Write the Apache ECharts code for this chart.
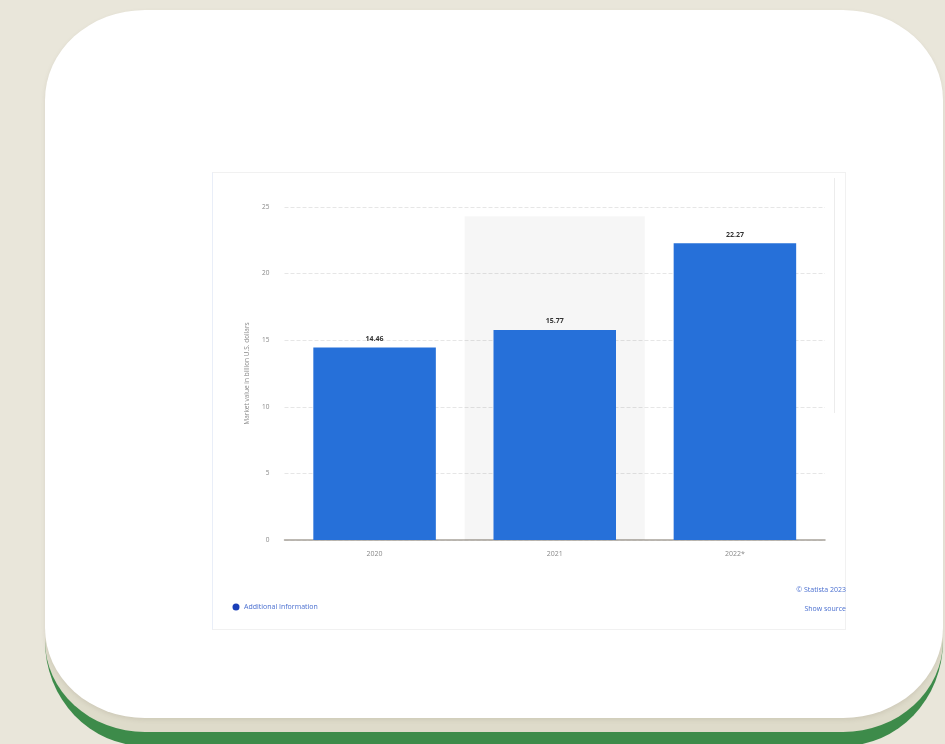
<!DOCTYPE html>
<html>
<head>
<meta charset="utf-8">
<title>Market value</title>
<script src="https://cdn.jsdelivr.net/npm/echarts@6/dist/echarts.min.js"></script>
<style>
  html, body { margin: 0; padding: 0; width: 945px; height: 744px; overflow: hidden; background: #e9e6da; font-family: "Open Sans", "Liberation Sans", sans-serif; }
  .frame {
    position: absolute; left: 45px; top: 10px; width: 898px; height: 722px;
    background: #dedbca; border-bottom: 14px solid #3d8b4a;
    border-radius: 100px / 105px; box-sizing: content-box;
  }
  .card {
    position: absolute; left: 45px; top: 10px; width: 898px; height: 708px;
    background: #ffffff; border-radius: 100px / 90px;
    box-shadow: 0 2px 4px rgba(120, 110, 90, 0.15);
  }
  .panel {
    position: absolute; left: 212px; top: 172px; width: 632px; height: 456px;
    border: 1px solid #f1f1f1; border-left-color: #e9eef8; background: #fff;
  }
  .side {
    position: absolute; left: 834px; top: 178px; width: 1px; height: 235px; background: #ececec;
  }
  #chart { position: absolute; left: 0; top: 0; width: 945px; height: 744px; }
</style>
</head>
<body>
<div class="frame"></div>
<div class="card"></div>
<div class="panel"></div>
<div class="side"></div>
<div id="chart"></div>
<script>
  // Market value per year, billion U.S. dollars
  const categories = ['2020', '2021', '2022*'];
  const values = [14.46, 15.77, 22.27];
  const yTicks = { min: 0, max: 25, interval: 5 };
  const highlightedYear = '2021';
  const highlightTop = 24.3;

  const chart = echarts.init(document.getElementById('chart'), null, { renderer: 'canvas' });

  chart.setOption({
    backgroundColor: 'transparent',
    animation: false,
    grid: { left: 284.5, right: 120, top: 207, bottom: 204, containLabel: false },
    xAxis: {
      type: 'category',
      data: categories,
      axisLine: { show: true, lineStyle: { color: '#a8a39a', width: 1.5 } },
      axisTick: { show: false },
      axisLabel: { color: '#888', fontSize: 7, margin: 10, fontFamily: 'Open Sans' },
      splitLine: { show: false }
    },
    yAxis: {
      type: 'value',
      min: yTicks.min,
      max: yTicks.max,
      interval: yTicks.interval,
      name: 'Market value in billion U.S. dollars',
      nameLocation: 'middle',
      nameRotate: 90,
      nameGap: 34,
      nameTextStyle: { color: '#8a8a8a', fontSize: 6.5, fontFamily: 'Open Sans' },
      axisLine: { show: false },
      axisTick: { show: false },
      axisLabel: { color: '#888', fontSize: 6.5, margin: 15, fontFamily: 'Open Sans' },
      splitLine: { show: true, lineStyle: { color: '#e6e6e6', type: 'dashed', width: 1 } }
    },
    series: [{
      type: 'bar',
      data: values,
      barWidth: '68%',
      itemStyle: { color: '#2670d9' },
      label: {
        show: true,
        position: 'top',
        distance: 5,
        color: '#333',
        fontSize: 7,
        fontWeight: 'bold',
        fontFamily: 'Open Sans',
        formatter: p => p.value.toFixed(2)
      },
      markArea: {
        silent: true,
        itemStyle: { color: 'rgba(0,0,0,0.035)' },
        data: [[{ xAxis: highlightedYear, yAxis: 0 }, { xAxis: highlightedYear, yAxis: highlightTop }]]
      }
    }],
    graphic: [
      { type: 'circle', shape: { cx: 236, cy: 607, r: 3.5 }, style: { fill: '#1a3fb8' } },
      { type: 'text', left: 244, top: 603, style: { text: 'Additional Information', fill: '#4a6fd0', fontSize: 7, fontFamily: 'Open Sans' } },
      { type: 'text', right: 945 - 846, top: 586, style: { text: '© Statista 2023', fill: '#4a6fd0', fontSize: 7, fontFamily: 'Open Sans', align: 'right' } },
      { type: 'text', right: 945 - 846, top: 605, style: { text: 'Show source', fill: '#4a6fd0', fontSize: 7, fontFamily: 'Open Sans', align: 'right' } }
    ]
  });
</script>
</body>
</html>
